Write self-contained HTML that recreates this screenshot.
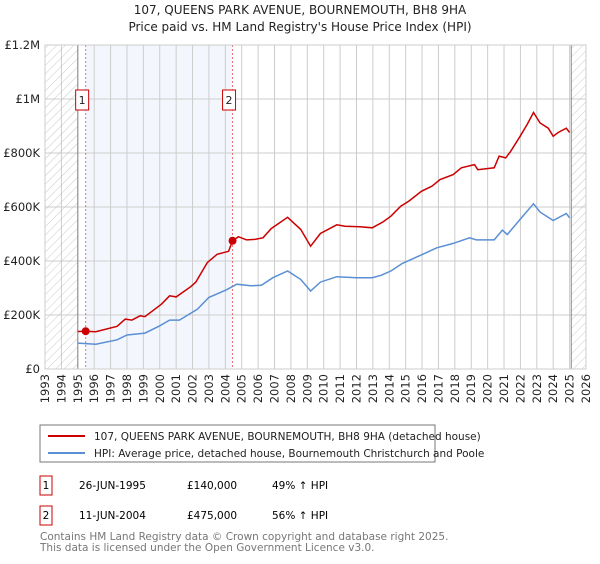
<!DOCTYPE html>
<html><head><meta charset="utf-8"><style>
body{margin:0;background:#fff;font-family:"DejaVu Sans","Liberation Sans",sans-serif;}
svg text{font-family:"DejaVu Sans","Liberation Sans",sans-serif;}
</style></head><body>
<svg id="chart" width="600" height="560" xmlns="http://www.w3.org/2000/svg">
<defs><pattern id="hatch" width="6" height="6" patternUnits="userSpaceOnUse" patternTransform="rotate(45)"><line x1="0" y1="0" x2="0" y2="6" stroke="#bbb" stroke-width="0.8"/></pattern></defs>
<text x="300" y="14" text-anchor="middle" font-size="12" fill="#222">107, QUEENS PARK AVENUE, BOURNEMOUTH, BH8 9HA</text>
<text x="300" y="31" text-anchor="middle" font-size="12" fill="#222">Price paid vs. HM Land Registry's House Price Index (HPI)</text>
<g id="grid"></g><g id="series"></g><g id="axes"></g>
<rect x="40" y="425" width="395" height="37" fill="#fff" stroke="#777"/>
<line x1="48" y1="436" x2="85" y2="436" stroke="#cc0000" stroke-width="2"/>
<text x="94" y="440" font-size="10.5" fill="#222">107, QUEENS PARK AVENUE, BOURNEMOUTH, BH8 9HA (detached house)</text>
<line x1="48" y1="453" x2="85" y2="453" stroke="#5b8fd4" stroke-width="2"/>
<text x="94" y="457" font-size="10.5" fill="#222">HPI: Average price, detached house, Bournemouth Christchurch and Poole</text>
<g>
<rect x="40" y="476" width="12" height="19" fill="#fff" stroke="#cc0000"/><text x="46" y="489" text-anchor="middle" font-size="10.5">1</text>
<text x="79" y="489" font-size="10.5">26-JUN-1995</text><text x="187" y="489" font-size="10.5">£140,000</text><text x="272" y="489" font-size="10.5">49% ↑ HPI</text></g>
<g>
<rect x="40" y="506" width="12" height="19" fill="#fff" stroke="#cc0000"/><text x="46" y="519" text-anchor="middle" font-size="10.5">2</text>
<text x="79" y="519" font-size="10.5">11-JUN-2004</text><text x="187" y="519" font-size="10.5">£475,000</text><text x="272" y="519" font-size="10.5">56% ↑ HPI</text></g>
<text x="40" y="540" font-size="10.5" fill="#777">Contains HM Land Registry data © Crown copyright and database right 2025.</text>
<text x="40" y="551" font-size="10.5" fill="#777">This data is licensed under the Open Government Licence v3.0.</text>
</svg>
<script>
const redYears=[1995.0,1995.48,1996.1,1997.4,1997.9,1998.3,1998.8,1999.1,2000.1,2000.6,2001.0,2001.9,2002.2,2002.9,2003.5,2004.2,2004.44,2004.8,2005.3,2005.8,2006.3,2006.8,2007.8,2008.6,2009.2,2009.8,2010.8,2011.3,2012.2,2012.96,2013.6,2014.1,2014.7,2015.2,2015.96,2016.6,2017.1,2017.9,2018.4,2019.2,2019.4,2020.4,2020.7,2021.1,2021.4,2021.98,2022.4,2022.8,2023.2,2023.7,2024.0,2024.3,2024.8,2025.0];
const redValues=[139,140,138,158,185,181,197,194,240,271,267,305,322,394,425,436,475,490,478,480,486,520,562,517,455,502,534,529,527,523,544,566,603,622,658,677,702,720,745,757,738,745,788,782,806,862,905,950,911,892,862,876,892,876];
const hpiYears=[1995.0,1996.1,1997.4,1998.0,1999.1,2000.0,2000.6,2001.2,2001.9,2002.3,2003.0,2004.05,2004.7,2005.55,2006.2,2006.9,2007.8,2008.6,2009.2,2009.8,2010.8,2012.0,2012.96,2013.5,2014.1,2014.8,2015.8,2016.9,2017.9,2018.9,2019.3,2020.4,2020.9,2021.2,2021.98,2022.8,2023.2,2024.0,2024.8,2025.0];
const hpiValues=[96,92,108,126,133,160,181,181,207,222,265,293,314,308,310,338,363,332,289,322,342,338,338,347,363,391,418,449,465,486,478,478,514,498,554,612,581,550,576,560];
const saleYears=[1995.48,2004.44];
const saleValues=[140,475];
const saleLabels=["1","2"];
const yTicks=[0,200,400,600,800,1000,1200];
const yTickLabels=["£0","£200K","£400K","£600K","£800K","£1M","£1.2M"];
const xStart=1993,xEnd=2026;
const L=45,R=586,T=45,B=369;
const X=y=>L+(y-xStart)/(xEnd-xStart)*(R-L);
const Y=v=>B-v/1200*(B-T);
const NS="http://www.w3.org/2000/svg";
function mk(p,tag,a){const e=document.createElementNS(NS,tag);for(const k in a)e.setAttribute(k,a[k]);p.appendChild(e);return e;}
const grid=document.getElementById('grid'),ser=document.getElementById('series'),ax=document.getElementById('axes');
let sh=mk(grid,'rect',{x:X(saleYears[0]),y:T,width:X(saleYears[1])-X(saleYears[0]),height:B-T,fill:'#eef3fc',opacity:0.7});


for(let yr=xStart;yr<=xEnd;yr++){
  mk(grid,'line',{x1:X(yr),x2:X(yr),y1:T,y2:B,stroke:'#ccc','stroke-width':1});
  const tx=X(yr)+4,ty=374;
  const t=mk(ax,'text',{x:tx,y:ty,'text-anchor':'end','font-size':11.5,fill:'#222',transform:'rotate(-90 '+tx+' '+ty+')'});t.textContent=yr;
  
  
}
yTicks.forEach((v,i)=>{
  mk(grid,'line',{x1:L,x2:R,y1:Y(v),y2:Y(v),stroke:'#ccc','stroke-width':1});
  const t=mk(ax,'text',{x:40,y:Y(v)+4,'text-anchor':'end','font-size':11.5,fill:'#222'});t.textContent=yTickLabels[i];
  
  
});
let h1=mk(grid,'rect',{x:L,y:T,width:X(1995)-L,height:B-T,fill:'url(#hatch)'});


let h2=mk(grid,'rect',{x:X(2025.1),y:T,width:R-X(2025.1),height:B-T,fill:'url(#hatch)'});


mk(grid,'line',{x1:X(1995),x2:X(1995),y1:T,y2:B,stroke:'#888'});
mk(grid,'line',{x1:X(2025.1),x2:X(2025.1),y1:T,y2:B,stroke:'#888'});
mk(ax,'rect',{x:L,y:T,width:R-L,height:B-T,fill:'none',stroke:'#ccc'});
saleYears.forEach((yr,i)=>{
  const l=mk(ser,'line',{x1:X(yr),x2:X(yr),y1:T,y2:B,stroke:'#f07070','stroke-dasharray':'2,2'});
  
  
  const g=mk(ser,'g',{});
  
  
  mk(g,'rect',{x:X(yr)-10,y:90,width:13,height:20,fill:'#fff',stroke:'#cc0000'});
  const t=mk(g,'text',{x:X(yr)-3.5,y:104,'text-anchor':'middle','font-size':11,fill:'#222'});t.textContent=saleLabels[i];
});
function path(xs,vs){return xs.map((x,i)=>(i?'L':'M')+X(x).toFixed(1)+','+Y(vs[i]).toFixed(1)).join('');}
const hp=mk(ser,'path',{d:path(hpiYears,hpiValues),fill:'none',stroke:'#5b8fd4','stroke-width':1.5});


const rp=mk(ser,'path',{d:path(redYears,redValues),fill:'none',stroke:'#cc0000','stroke-width':1.5});


saleYears.forEach((yr,i)=>{
  const c=mk(ser,'circle',{cx:X(yr),cy:Y(saleValues[i]),r:4,fill:'#cc0000'});
  
  
});
</script>
</body></html>
